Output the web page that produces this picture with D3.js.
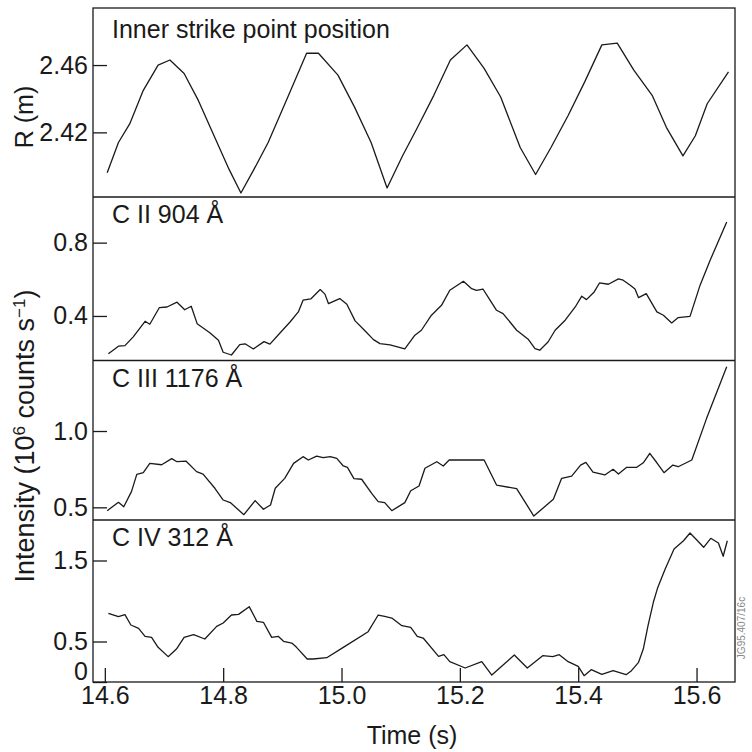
<!DOCTYPE html>
<html>
<head>
<meta charset="utf-8">
<script src="https://cdn.jsdelivr.net/npm/d3@7"></script>
<style>
  body { margin: 0; background: #fff; }
  svg { display: block; font-family: "Liberation Sans", Arial, sans-serif; }
</style>
</head>
<body>
<svg id="chart" width="752" height="752"></svg>
<script>
// values (time in s)
const timeTicks = [14.6, 14.8, 15.0, 15.2, 15.4, 15.6];

const strikeTime = [14.604, 14.623, 14.642, 14.665, 14.690, 14.710, 14.734, 14.758, 14.787, 14.810, 14.830, 14.852, 14.876, 14.908, 14.941, 14.961, 14.994, 15.022, 15.050, 15.077, 15.103, 15.127, 15.156, 15.184, 15.212, 15.241, 15.269, 15.302, 15.328, 15.354, 15.383, 15.411, 15.440, 15.466, 15.494, 15.525, 15.549, 15.577, 15.598, 15.618, 15.654];
const strikeR = [2.396, 2.414, 2.425, 2.445, 2.460, 2.463, 2.455, 2.439, 2.416, 2.398, 2.384, 2.398, 2.414, 2.440, 2.467, 2.467, 2.454, 2.435, 2.414, 2.387, 2.406, 2.422, 2.442, 2.463, 2.472, 2.458, 2.441, 2.411, 2.395, 2.411, 2.430, 2.450, 2.472, 2.473, 2.457, 2.442, 2.423, 2.406, 2.418, 2.437, 2.456];
const strikeTicks = [2.42, 2.46];

const c2Time = [14.606, 14.623, 14.634, 14.648, 14.668, 14.676, 14.692, 14.705, 14.722, 14.735, 14.746, 14.756, 14.778, 14.792, 14.800, 14.814, 14.828, 14.837, 14.851, 14.869, 14.879, 14.896, 14.913, 14.927, 14.935, 14.948, 14.964, 14.972, 14.978, 14.997, 15.009, 15.023, 15.040, 15.054, 15.065, 15.082, 15.107, 15.124, 15.135, 15.152, 15.169, 15.183, 15.206, 15.220, 15.228, 15.239, 15.251, 15.262, 15.273, 15.296, 15.316, 15.327, 15.335, 15.349, 15.361, 15.378, 15.395, 15.406, 15.414, 15.427, 15.436, 15.451, 15.468, 15.476, 15.488, 15.496, 15.502, 15.515, 15.533, 15.544, 15.558, 15.569, 15.589, 15.606, 15.623, 15.651];
const c2Intensity = [0.194, 0.235, 0.238, 0.286, 0.371, 0.355, 0.445, 0.449, 0.475, 0.434, 0.453, 0.358, 0.307, 0.268, 0.202, 0.187, 0.244, 0.248, 0.220, 0.260, 0.246, 0.307, 0.367, 0.422, 0.486, 0.493, 0.544, 0.519, 0.467, 0.495, 0.464, 0.373, 0.318, 0.271, 0.249, 0.242, 0.220, 0.295, 0.322, 0.404, 0.458, 0.540, 0.589, 0.549, 0.540, 0.547, 0.486, 0.431, 0.413, 0.322, 0.271, 0.222, 0.213, 0.258, 0.322, 0.377, 0.449, 0.508, 0.489, 0.531, 0.580, 0.573, 0.602, 0.595, 0.568, 0.547, 0.500, 0.522, 0.422, 0.404, 0.362, 0.391, 0.398, 0.568, 0.704, 0.913];
const c2Ticks = [0.4, 0.8];

const c3Time = [14.604, 14.623, 14.632, 14.645, 14.654, 14.665, 14.676, 14.696, 14.713, 14.722, 14.737, 14.755, 14.766, 14.786, 14.800, 14.812, 14.835, 14.854, 14.868, 14.880, 14.888, 14.904, 14.919, 14.935, 14.944, 14.958, 14.969, 14.981, 14.992, 15.003, 15.010, 15.021, 15.034, 15.051, 15.062, 15.073, 15.085, 15.107, 15.117, 15.131, 15.141, 15.161, 15.172, 15.182, 15.206, 15.241, 15.262, 15.296, 15.325, 15.358, 15.372, 15.389, 15.404, 15.413, 15.425, 15.445, 15.459, 15.468, 15.482, 15.499, 15.510, 15.521, 15.533, 15.545, 15.560, 15.569, 15.592, 15.617, 15.651];
const c3Intensity = [0.478, 0.533, 0.504, 0.603, 0.716, 0.727, 0.788, 0.779, 0.819, 0.799, 0.803, 0.734, 0.718, 0.625, 0.548, 0.531, 0.452, 0.544, 0.487, 0.515, 0.625, 0.690, 0.788, 0.832, 0.810, 0.836, 0.825, 0.832, 0.821, 0.771, 0.762, 0.688, 0.684, 0.592, 0.537, 0.531, 0.478, 0.531, 0.609, 0.640, 0.756, 0.799, 0.771, 0.810, 0.810, 0.810, 0.646, 0.622, 0.443, 0.553, 0.690, 0.705, 0.777, 0.795, 0.731, 0.712, 0.749, 0.718, 0.762, 0.762, 0.792, 0.854, 0.792, 0.727, 0.777, 0.766, 0.810, 1.083, 1.421];
const c3Ticks = [0.5, 1.0];

const c4Time = [14.606, 14.623, 14.634, 14.644, 14.657, 14.668, 14.679, 14.690, 14.707, 14.721, 14.734, 14.750, 14.769, 14.789, 14.800, 14.814, 14.826, 14.844, 14.857, 14.868, 14.882, 14.893, 14.902, 14.916, 14.924, 14.942, 14.952, 14.975, 15.003, 15.045, 15.062, 15.073, 15.085, 15.102, 15.117, 15.128, 15.138, 15.164, 15.173, 15.183, 15.209, 15.237, 15.254, 15.292, 15.314, 15.340, 15.357, 15.368, 15.383, 15.400, 15.410, 15.422, 15.440, 15.459, 15.481, 15.490, 15.502, 15.510, 15.518, 15.527, 15.534, 15.547, 15.562, 15.578, 15.589, 15.600, 15.612, 15.624, 15.637, 15.645, 15.652];
const c4Intensity = [0.848, 0.806, 0.831, 0.704, 0.663, 0.564, 0.551, 0.428, 0.313, 0.407, 0.551, 0.584, 0.531, 0.687, 0.728, 0.827, 0.835, 0.930, 0.749, 0.737, 0.551, 0.564, 0.502, 0.481, 0.428, 0.284, 0.284, 0.300, 0.428, 0.621, 0.827, 0.811, 0.790, 0.695, 0.675, 0.564, 0.543, 0.317, 0.337, 0.251, 0.173, 0.251, 0.086, 0.333, 0.173, 0.325, 0.313, 0.337, 0.251, 0.193, 0.078, 0.152, 0.095, 0.140, 0.090, 0.140, 0.243, 0.407, 0.695, 0.984, 1.156, 1.395, 1.642, 1.744, 1.840, 1.757, 1.663, 1.774, 1.716, 1.552, 1.744];
const c4Ticks = [0, 0.5, 1.5];

const svg = d3.select('#chart');
const left = 93, right = 735;
const ink = '#1a1a1a';
const fontSize = 25;

const x = d3.scaleLinear().domain([14.58, 15.665]).range([left, right]);

const fmt1 = d => d === 0 ? '0' : d3.format('.1f')(d);
const panels = [
  { label: 'Inner strike point position', t: strikeTime, v: strikeR, domain: [2.3816, 2.4939], ticks: strikeTicks, fmt: d3.format('.2f'), top: 8, bottom: 197 },
  { label: 'C II 904 Å', t: c2Time, v: c2Intensity, domain: [0.157, 1.049], ticks: c2Ticks, fmt: fmt1, top: 197, bottom: 360.5 },
  { label: 'C III 1176 Å', t: c3Time, v: c3Intensity, domain: [0.417, 1.462], ticks: c3Ticks, fmt: fmt1, top: 360.5, bottom: 520 },
  { label: 'C IV 312 Å', t: c4Time, v: c4Intensity, domain: [0, 2.0], ticks: c4Ticks, fmt: fmt1, top: 520, bottom: 682 }
];

panels.forEach(p => {
  const y = d3.scaleLinear().domain(p.domain).range([p.bottom, p.top]);
  const g = svg.append('g');

  const yAxis = g.append('g')
    .attr('transform', `translate(${left},0)`)
    .call(d3.axisLeft(y).tickValues(p.ticks).tickFormat(p.fmt).tickSize(-14).tickPadding(5));
  yAxis.select('.domain').remove();
  yAxis.selectAll('line').attr('stroke', ink).attr('stroke-width', 1.3);
  yAxis.selectAll('text')
    .attr('font-size', fontSize)
    .attr('font-family', '"Liberation Sans", Arial, sans-serif')
    .attr('fill', ink)
    .filter(d => d === 0).attr('y', -11);

  const data = p.t.map((t, i) => [t, p.v[i]]);
  g.append('path')
    .datum(data)
    .attr('fill', 'none')
    .attr('stroke', ink)
    .attr('stroke-width', 1.3)
    .attr('stroke-linejoin', 'round')
    .attr('d', d3.line().x(d => x(d[0])).y(d => y(d[1])));

  g.append('text')
    .attr('x', 112)
    .attr('y', p.top + (p === panels[0] ? 30 : 26))
    .attr('font-size', fontSize)
    .attr('fill', ink)
    .text(p.label);

  if (p !== panels[0]) {
    g.append('line')
      .attr('x1', left).attr('x2', right)
      .attr('y1', p.top).attr('y2', p.top)
      .attr('stroke', ink).attr('stroke-width', 1.3);
  }
});

// outer frame
svg.append('rect')
  .attr('x', left).attr('y', 8)
  .attr('width', right - left).attr('height', 682 - 8)
  .attr('fill', 'none').attr('stroke', ink).attr('stroke-width', 1.3);

const xAxis = svg.append('g')
  .attr('transform', 'translate(0,682)')
  .call(d3.axisBottom(x).tickValues(timeTicks).tickFormat(d3.format('.1f')).tickSize(-14).tickPadding(4));
xAxis.select('.domain').remove();
xAxis.selectAll('line').attr('stroke', ink).attr('stroke-width', 1.3);
xAxis.selectAll('text')
  .attr('font-size', fontSize)
  .attr('font-family', '"Liberation Sans", Arial, sans-serif')
  .attr('fill', ink);

svg.append('text')
  .attr('x', 412).attr('y', 744)
  .attr('text-anchor', 'middle')
  .attr('font-size', fontSize)
  .attr('fill', ink)
  .text('Time (s)');

svg.append('text')
  .attr('transform', 'translate(33,117) rotate(-90)')
  .attr('text-anchor', 'middle')
  .attr('font-size', fontSize)
  .attr('fill', ink)
  .text('R (m)');

const yLabel = svg.append('text')
  .attr('transform', 'translate(34,436) rotate(-90)')
  .attr('text-anchor', 'middle')
  .attr('font-size', 27)
  .attr('fill', ink);
yLabel.append('tspan').text('Intensity (10');
yLabel.append('tspan').attr('baseline-shift', 'super').attr('font-size', 17).text('6');
yLabel.append('tspan').text(' counts s');
yLabel.append('tspan').attr('baseline-shift', 'super').attr('font-size', 17).text('−1');
yLabel.append('tspan').text(')');

svg.append('text')
  .attr('transform', 'translate(745,628) rotate(-90)')
  .attr('text-anchor', 'middle')
  .attr('font-size', 10)
  .attr('fill', '#888')
  .text('JG95.407/16c');
</script>
</body>
</html>
